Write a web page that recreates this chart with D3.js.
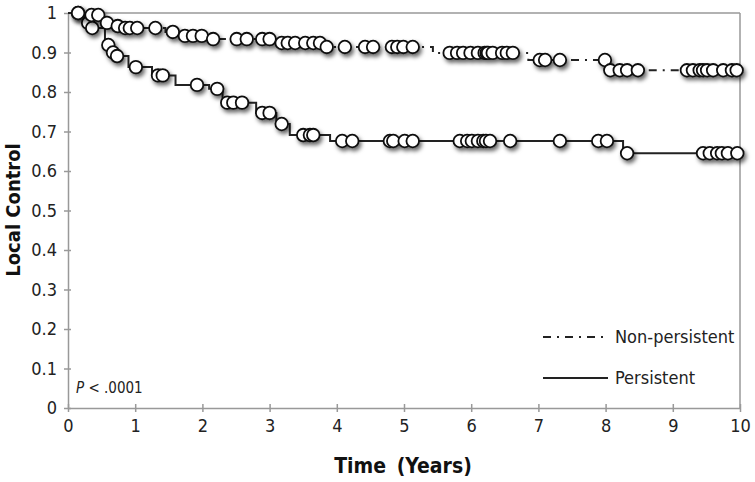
<!DOCTYPE html>
<html><head><meta charset="utf-8">
<script src="https://cdn.jsdelivr.net/npm/d3@7"></script>
<style>
body{margin:0;background:#fff;}
svg{display:block;}
text{font-family:"DejaVu Sans Condensed","DejaVu Sans",sans-serif;font-stretch:condensed;}
</style></head>
<body>
<svg id="chart" width="755" height="482"></svg>
<script>
// ---- data ----
const xTicks = [0,1,2,3,4,5,6,7,8,9,10];
const yTicks = [0,0.1,0.2,0.3,0.4,0.5,0.6,0.7,0.8,0.9,1];
const yTickLabels = ["0","0.1","0.2","0.3","0.4","0.5","0.6","0.7","0.8","0.9","1"];
const seriesNames = ["Non-persistent","Persistent"];

// step changes: [time, survival from that time on]
const npSteps = [[0,1.0],[0.3,0.995],[0.5,0.975],[0.7,0.967],[0.8,0.962],[1.45,0.952],[1.65,0.942],[2.1,0.934],[3.1,0.924],[3.8,0.914],[5.43,0.899],[6.85,0.881],[8.02,0.855],[9.96,0.855]];
const npCensor = [0.15,0.35,0.45,0.58,0.74,0.85,0.92,1.03,1.3,1.56,1.74,1.86,1.99,2.16,2.51,2.66,2.89,3.0,3.18,3.27,3.38,3.53,3.65,3.75,3.85,4.12,4.42,4.54,4.82,4.9,4.99,5.13,5.68,5.79,5.88,5.99,6.1,6.2,6.23,6.25,6.32,6.46,6.53,6.62,7.02,7.1,7.32,7.99,8.07,8.21,8.32,8.48,9.21,9.3,9.4,9.45,9.51,9.6,9.75,9.88,9.95];

const pSteps = [[0,1.0],[0.25,0.975],[0.33,0.962],[0.55,0.919],[0.64,0.9],[0.7,0.891],[0.9,0.863],[1.25,0.842],[1.6,0.818],[2.1,0.808],[2.3,0.773],[2.8,0.747],[3.1,0.719],[3.3,0.691],[3.9,0.676],[8.26,0.645],[9.96,0.645]];
const pCensor = [0.15,0.3,0.36,0.6,0.67,0.73,1.01,1.34,1.41,1.92,2.22,2.37,2.46,2.59,2.89,3.0,3.18,3.5,3.6,3.65,4.08,4.23,4.79,4.84,5.01,5.13,5.83,5.94,6.01,6.1,6.18,6.22,6.28,6.58,7.32,7.89,8.02,8.32,9.45,9.55,9.66,9.73,9.82,9.96];

const pText = "P < .0001";

// ---- drawing ----
const svg = d3.select("#chart");
const x = d3.scaleLinear().domain([0,10]).range([68,740]);
const y = d3.scaleLinear().domain([0,1]).range([408,13]);

const defs = svg.append("defs");
const f = defs.append("filter").attr("id","sh").attr("x","-50%").attr("y","-50%").attr("width","220%").attr("height","220%");
f.append("feDropShadow").attr("dx",2).attr("dy",3).attr("stdDeviation",2).attr("flood-color","#000").attr("flood-opacity",0.6);

// frame top & right
svg.append("line").attr("x1",x(0)).attr("x2",x(10)).attr("y1",y(1)).attr("y2",y(1)).attr("stroke","#999").attr("stroke-width",1.5);
svg.append("line").attr("x1",x(10)).attr("x2",x(10)).attr("y1",y(1)).attr("y2",y(0)).attr("stroke","#999").attr("stroke-width",1.5);

// axes
const xAxis = d3.axisBottom(x).tickValues(xTicks).tickSize(0).tickPadding(11).tickFormat(d3.format("d"));
const gx = svg.append("g").attr("transform",`translate(0,${y(0)})`).call(xAxis);
gx.select(".domain").attr("stroke","#999").attr("stroke-width",1.5);
gx.selectAll(".tick text").attr("font-size",18).attr("fill","#222");
gx.selectAll(".tick").append("line").attr("y1",-4).attr("y2",4).attr("stroke","#999").attr("stroke-width",1.5);

const yAxis = d3.axisLeft(y).tickValues(yTicks).tickSize(0).tickPadding(11).tickFormat((d,i)=>yTickLabels[i]);
const gy = svg.append("g").attr("transform",`translate(${x(0)},0)`).call(yAxis);
gy.select(".domain").attr("stroke","#999").attr("stroke-width",1.5);
gy.selectAll(".tick text").attr("font-size",18).attr("fill","#222");
gy.selectAll(".tick").append("line").attr("x1",-4).attr("x2",3).attr("stroke","#999").attr("stroke-width",1.5);

// axis titles
svg.append("text").attr("x",403).attr("y",473).attr("text-anchor","middle").attr("font-size",21).attr("font-weight","bold").attr("fill","#111").attr("word-spacing",4).text("Time (Years)");
svg.append("text").attr("transform","translate(20,210) rotate(-90)").attr("text-anchor","middle").attr("font-size",20).attr("font-weight","bold").attr("fill","#111").text("Local Control");

// p-value
const pt = svg.append("text").attr("x",76).attr("y",393).attr("font-size",15).attr("fill","#222");
pt.append("tspan").attr("font-style","italic").text("P");
pt.append("tspan").text(pText.slice(1));

function stepVal(steps,t){let v=steps[0][1];for(const s of steps){if(s[0]<=t)v=s[1];}return v;}
const line = d3.line().x(d=>x(d[0])).y(d=>y(d[1])).curve(d3.curveStepAfter);

function drawSeries(steps,censor,dash){
  svg.append("path").datum(steps).attr("d",line).attr("fill","none").attr("stroke","#222").attr("stroke-width",2).attr("stroke-dasharray",dash);
  svg.append("g").attr("filter","url(#sh)").selectAll("circle").data(censor).join("circle")
    .attr("cx",d=>x(d)).attr("cy",d=>y(stepVal(steps,d))).attr("r",6.3)
    .attr("fill","#fff").attr("stroke","#111").attr("stroke-width",1.8);
}
drawSeries(pSteps,pCensor,null);
drawSeries(npSteps,npCensor,"8,6,2,6");

// legend
const lg = [{name:seriesNames[0],yy:337,dash:"8,6,2,6"},{name:seriesNames[1],yy:378,dash:null}];
lg.forEach(l=>{
  svg.append("line").attr("x1",543).attr("x2",608).attr("y1",l.yy).attr("y2",l.yy).attr("stroke","#222").attr("stroke-width",2).attr("stroke-dasharray",l.dash);
  svg.append("text").attr("x",615).attr("y",l.yy+6).attr("font-size",18).attr("fill","#222").text(l.name);
});
</script>
</body></html>
